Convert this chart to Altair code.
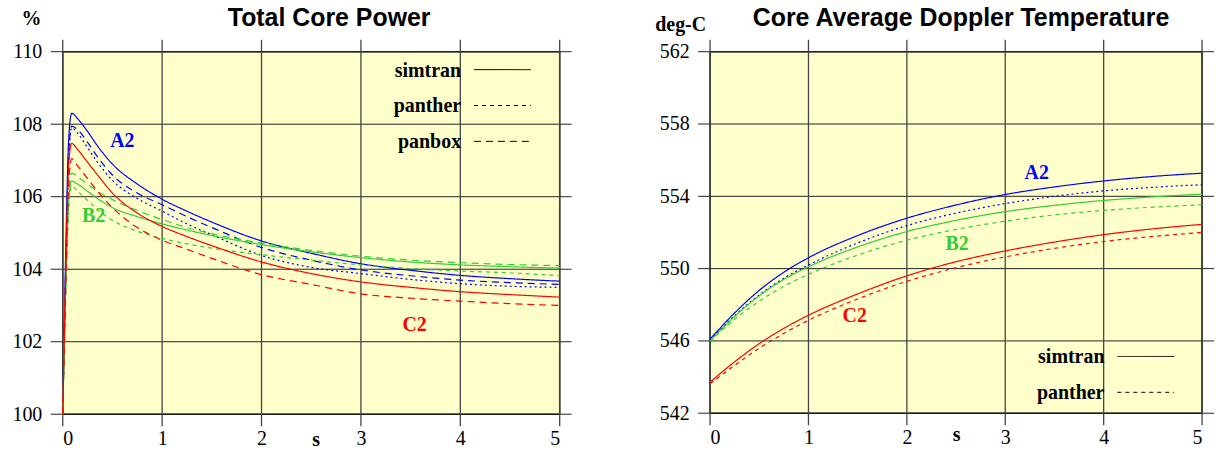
import altair as alt
import pandas as pd

CASES = ["A2", "B2", "C2"]
CASE_COLORS = ["#0000ff", "#33cc33", "#ff0000"]

# ---------------- Total Core Power (%) ----------------
t_power = [0, 0.03, 0.06, 0.09, 0.15, 0.25, 0.35, 0.5, 0.75, 1.0, 1.25, 1.5, 2.0, 2.5, 3.0, 3.5, 4.0, 4.5, 5.0]
power_A2_simtran = [100.0, 104.5, 107.6, 108.3, 108.15, 107.8, 107.4, 106.9, 106.35, 105.93, 105.6, 105.3, 104.78, 104.44, 104.15, 103.97, 103.83, 103.74, 103.67]
power_A2_panther = [100.0, 103.8, 107.0, 107.9, 107.75, 107.35, 106.95, 106.45, 105.95, 105.6, 105.25, 104.95, 104.38, 104.05, 103.88, 103.72, 103.6, 103.53, 103.5]
power_A2_panbox = [100.0, 104.0, 107.2, 107.95, 107.85, 107.5, 107.1, 106.6, 106.1, 105.78, 105.45, 105.15, 104.6, 104.25, 103.98, 103.82, 103.7, 103.63, 103.58]
power_B2_simtran = [100.0, 103.5, 105.9, 106.43, 106.35, 106.15, 105.95, 105.7, 105.45, 105.25, 105.08, 104.93, 104.68, 104.48, 104.32, 104.2, 104.12, 104.07, 104.03]
power_B2_panther = [100.0, 103.2, 105.6, 106.3, 106.15, 105.9, 105.65, 105.35, 105.05, 104.85, 104.7, 104.58, 104.4, 104.25, 104.12, 104.02, 103.95, 103.9, 103.82]
power_B2_panbox = [100.0, 103.6, 106.0, 106.65, 106.55, 106.35, 106.15, 105.92, 105.62, 105.37, 105.15, 104.98, 104.72, 104.52, 104.36, 104.25, 104.18, 104.13, 104.1]
power_C2_simtran = [100.0, 104.0, 106.9, 107.47, 107.3, 106.95, 106.6, 106.1, 105.55, 105.18, 104.9, 104.65, 104.2, 103.88, 103.65, 103.5, 103.38, 103.3, 103.23]
power_C2_panbox = [100.0, 103.5, 106.4, 107.05, 106.85, 106.5, 106.15, 105.7, 105.15, 104.8, 104.55, 104.3, 103.85, 103.58, 103.32, 103.2, 103.12, 103.05, 103.0]

power_series = {
    ("A2", "simtran"): power_A2_simtran,
    ("A2", "panther"): power_A2_panther,
    ("A2", "panbox"): power_A2_panbox,
    ("B2", "simtran"): power_B2_simtran,
    ("B2", "panther"): power_B2_panther,
    ("B2", "panbox"): power_B2_panbox,
    ("C2", "simtran"): power_C2_simtran,
    ("C2", "panbox"): power_C2_panbox,
}

# ---------------- Core Average Doppler Temperature (deg-C) ----------------
t_doppler = [0, 0.25, 0.5, 0.75, 1.0, 1.5, 2.0, 2.5, 3.0, 3.5, 4.0, 4.5, 5.0]
doppler_A2_simtran = [546.1, 547.55, 548.8, 549.8, 550.6, 551.83, 552.79, 553.52, 554.1, 554.52, 554.85, 555.1, 555.28]
doppler_A2_panther = [546.05, 547.4, 548.55, 549.47, 550.2, 551.42, 552.38, 553.07, 553.6, 554.0, 554.3, 554.5, 554.64]
doppler_B2_simtran = [546.0, 547.35, 548.5, 549.4, 550.1, 551.2, 552.05, 552.67, 553.15, 553.5, 553.77, 553.97, 554.12]
doppler_B2_panther = [546.0, 547.2, 548.2, 549.02, 549.68, 550.75, 551.57, 552.17, 552.62, 552.97, 553.22, 553.4, 553.53]
doppler_C2_simtran = [543.72, 544.85, 545.85, 546.7, 547.42, 548.6, 549.6, 550.38, 550.98, 551.47, 551.88, 552.2, 552.45]
doppler_C2_panther = [543.63, 544.65, 545.6, 546.42, 547.14, 548.32, 549.3, 550.05, 550.65, 551.12, 551.5, 551.78, 552.0]

doppler_series = {
    ("A2", "simtran"): doppler_A2_simtran,
    ("A2", "panther"): doppler_A2_panther,
    ("B2", "simtran"): doppler_B2_simtran,
    ("B2", "panther"): doppler_B2_panther,
    ("C2", "simtran"): doppler_C2_simtran,
    ("C2", "panther"): doppler_C2_panther,
}

# case label positions (data coordinates)
power_label_t = [0.60, 0.31, 3.54]
power_label_v = [107.53, 105.47, 102.45]
doppler_label_t = [3.32, 2.51, 1.47]
doppler_label_v = [555.31, 551.34, 547.36]

x_ticks = [0, 1, 2, 3, 4, 5]
power_ticks = [100, 102, 104, 106, 108, 110]
doppler_ticks = [542, 546, 550, 554, 558, 562]

# ---------------- styles ----------------
SERIF = "Liberation Serif"
SANS = "Liberation Sans"
DASH = {"simtran": [1, 0], "panther": [4, 4], "panbox": [7, 5]}
SERIES_DASH = {
    ("A2", "panther"): [2, 3],
}


def panel(t, series, title, title_dx, title_dy, ytitle, ytitle_x, ytitle_y, ydomain, yticks,
          label_t, label_v, legend_codes, leg_x, leg_y, leg_step,
          width, height, s_x, s_y):
    xs = alt.Scale(domain=[0, 5], nice=False, zero=False)
    ys = alt.Scale(domain=ydomain, nice=False, zero=False)
    x_axis = alt.Axis(
        values=x_ticks, format="d", ticks=False, domain=False, grid=False,
        labelFont=SERIF, labelFontSize=20, labelColor="#000", labelPadding=14,
        title="s", titleFont=SERIF, titleFontSize=20, titleFontWeight="bold",
        titleColor="#000", titleX=s_x, titleY=s_y, titleBaseline="alphabetic")
    y_axis = alt.Axis(
        values=yticks, format="d", ticks=False, domain=False, grid=False,
        labelFont=SERIF, labelFontSize=20, labelColor="#000", labelPadding=21,
        title=ytitle, titleAngle=0, titleFont=SERIF, titleFontSize=20,
        titleFontWeight="bold", titleColor="#000", titleX=ytitle_x,
        titleY=ytitle_y, titleAlign="center", titleBaseline="alphabetic")

    hrules = alt.Chart(pd.DataFrame({"v": yticks})).mark_rule(
        color="#222", strokeWidth=1).encode(
        y=alt.Y("v:Q", scale=ys, axis=y_axis),
        x=alt.value(-12), x2=alt.value(width + 12))
    vrules = alt.Chart(pd.DataFrame({"t": x_ticks})).mark_rule(
        color="#444", strokeWidth=1.3).encode(
        x=alt.X("t:Q", scale=xs, axis=x_axis),
        y=alt.value(-12), y2=alt.value(height + 12))

    layers = [hrules, vrules]
    for (case, code), vals in series.items():
        sdf = pd.DataFrame({"t": t, "v": vals, "case": [case] * len(t)})
        dash = SERIES_DASH.get((case, code), DASH[code])
        layers.append(alt.Chart(sdf).mark_line(
            strokeWidth=1.2, interpolate="monotone", strokeDash=dash).encode(
            x=alt.X("t:Q", scale=xs, axis=x_axis),
            y=alt.Y("v:Q", scale=ys, axis=y_axis),
            color=alt.Color("case:N", scale=alt.Scale(domain=CASES, range=CASE_COLORS), legend=None),
        ))

    lab_df = pd.DataFrame({"case": CASES, "t": label_t, "v": label_v})
    layers.append(alt.Chart(lab_df).mark_text(
        font=SERIF, fontSize=20, fontWeight="bold", align="center", baseline="middle").encode(
        x=alt.X("t:Q", scale=xs, axis=x_axis),
        y=alt.Y("v:Q", scale=ys, axis=y_axis),
        text="case:N",
        color=alt.Color("case:N", scale=alt.Scale(domain=CASES, range=CASE_COLORS), legend=None),
    ))

    for i, code in enumerate(legend_codes):
        cdf = pd.DataFrame({"code": [code]})
        yb = leg_y + i * leg_step
        layers.append(alt.Chart(cdf).mark_text(
            font=SERIF, fontSize=20, fontWeight="bold", align="right",
            baseline="alphabetic", color="#000").encode(
            text="code:N", x=alt.value(leg_x), y=alt.value(yb)))
        layers.append(alt.Chart(cdf).mark_rule(
            color="#000", strokeWidth=1, strokeDash=DASH[code]).encode(
            x=alt.value(leg_x + 13), x2=alt.value(leg_x + 70), y=alt.value(yb - 7)))

    return alt.layer(*layers).properties(
        width=width, height=height,
        title=alt.TitleParams(title, font=SANS, fontSize=25, fontWeight="bold",
                              color="#000", anchor="middle", frame="group",
                              offset=0, dx=title_dx, baseline="alphabetic", dy=title_dy),
    )


left = panel(t_power, power_series, "Total Core Power", 18, 42, "%", -32, -27, [100, 110], power_ticks,
             power_label_t, power_label_v, ["simtran", "panther", "panbox"],
             400, 25, 36, 499, 364, 254, 31)
right = panel(t_doppler, doppler_series, "Core Average Doppler Temperature", 5, 36, "deg-C", -30, -21,
              [542, 562], doppler_ticks, doppler_label_t, doppler_label_v,
              ["simtran", "panther"], 396, 313, 36, 494, 363, 247, 27)

chart = alt.hconcat(left, right, spacing=80).properties(
    padding={"left": 11, "top": 4, "right": 0, "bottom": 0}
).configure_view(fill="#ffffcc", stroke="#111", strokeWidth=1.5)

chart.save("out.html", embed_options={"renderer": "svg", "actions": False})
